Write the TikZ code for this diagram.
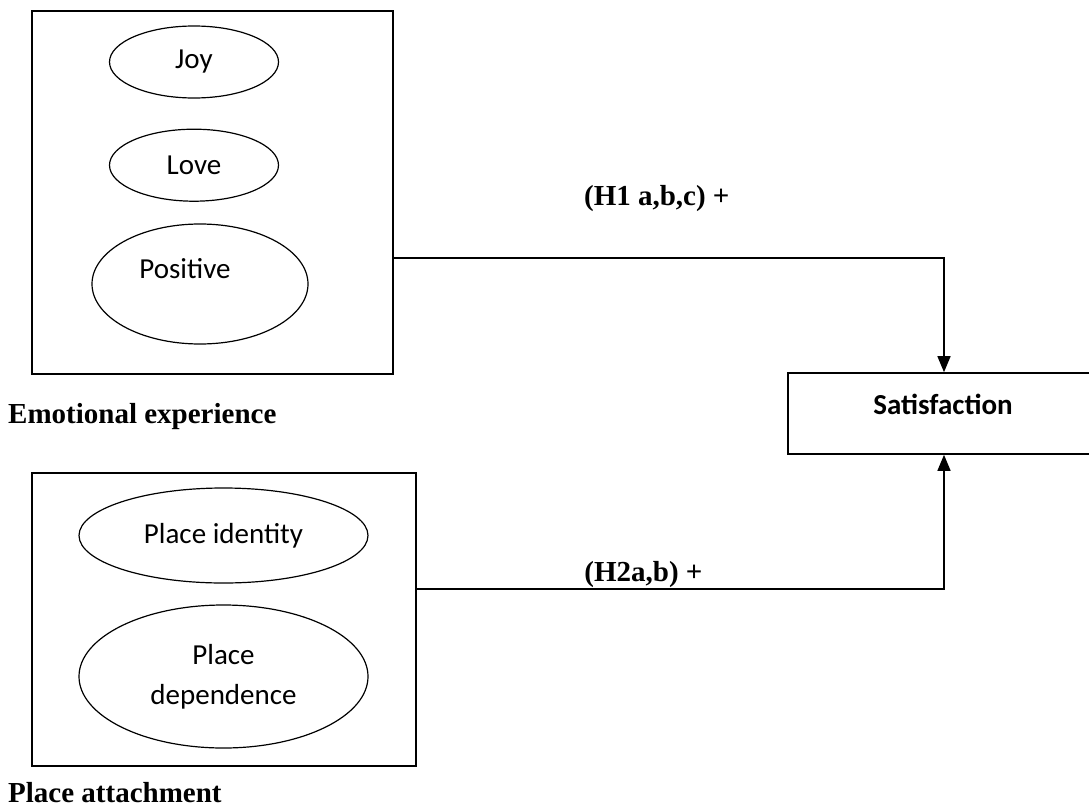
\documentclass[tikz,border=0pt]{standalone}
\usepackage{fontspec}
\setmainfont{Liberation Serif}
\newfontfamily\calibri{Carlito}
\usetikzlibrary{arrows.meta,positioning,shapes.geometric}

\begin{document}
\begin{tikzpicture}[x=1pt, y=-1pt]
    % Styles
    \tikzstyle{frame} = [rectangle, draw, line width=1.6pt, inner sep=0pt]
    \tikzstyle{oval} = [ellipse, draw, line width=1.2pt, inner sep=0pt, align=center, font=\calibri\fontsize{29}{40}\selectfont]
    \tikzstyle{caption} = [anchor=base west, inner sep=0pt, font=\bfseries\fontsize{29}{34}\selectfont]
    \tikzstyle{hyp} = [anchor=base, inner sep=0pt, font=\bfseries\fontsize{29}{34}\selectfont]
    \tikzstyle{arrow} = [line width=1.4pt, -{Triangle[length=16pt, width=13pt]}]

    \useasboundingbox (0,0) rectangle (1089,811);

    % Emotional experience
    \node [frame, minimum width=361pt, minimum height=363pt] (emobox) at (212.5,192.5) {};
    \node [oval, minimum width=169pt, minimum height=72pt] (joy) at (194,62) {Joy};
    \node [oval, minimum width=169pt, minimum height=72pt, below=30pt of joy] (love) {Love};
    \node [oval, minimum width=216pt, minimum height=120pt] (positive) at (200,284) {};
    \node [font=\calibri\fontsize{29}{40}\selectfont, inner sep=0pt] (positivetext) at ([xshift=-15pt, yshift=15pt]positive.center) {Positive};
    \node [caption] (emolabel) at (8,423) {Emotional experience};

    % Place attachment
    \node [frame, minimum width=384pt, minimum height=293pt] (placebox) at (224,619.5) {};
    \node [oval, minimum width=289pt, minimum height=95pt] (identity) at (223.5,535.5) {Place identity};
    \node [oval, minimum width=289pt, minimum height=143pt] (dependence) at (223.5,676.5) {Place\\dependence};
    \node [caption] (placelabel) at (8,802) {Place attachment};

    % Satisfaction
    \node [frame, minimum width=312pt, minimum height=81pt] (satbox) at (944,413.5) {};
    \node [font=\calibri\bfseries\fontsize{29}{34}\selectfont, inner sep=0pt] (sattext) at (943,404) {Satisfaction};

    % Connections
    \draw[arrow] ([yshift=-65.5pt]emobox.east) -| node[hyp, pos=0.239, yshift=53pt] {(H1 a,b,c) +} (satbox.north);
    \draw[arrow] ([yshift=30.5pt]placebox.east) -| node[hyp, pos=0.215, yshift=8pt] {(H2a,b) +} (satbox.south);
\end{tikzpicture}
\end{document}
